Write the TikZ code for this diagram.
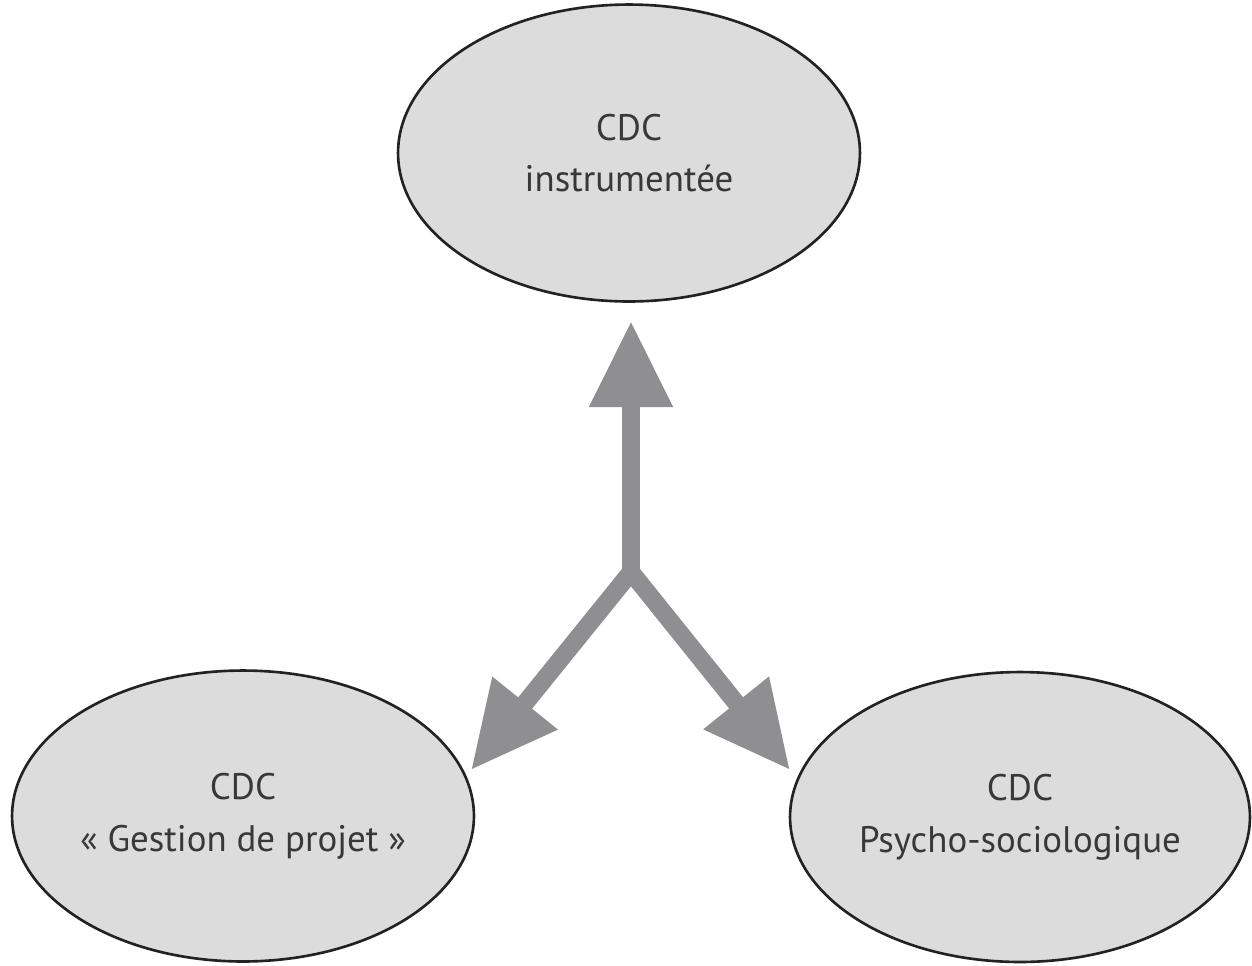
\documentclass[tikz,border=0pt]{standalone}
\usepackage{fontspec}
\setmainfont{PT Sans}
\usetikzlibrary{arrows.meta,shapes.geometric}
\definecolor{grisbulle}{HTML}{DCDCDC}
\definecolor{grisfleche}{HTML}{8F8F91}
\definecolor{bord}{HTML}{222222}

\begin{document}
\begin{tikzpicture}[x=0.02cm, y=-0.02cm,
    >={Triangle[width=45pt, length=49pt]},
    bulle/.style={ellipse, draw=bord, line width=1.5pt, fill=grisbulle, inner sep=0pt,
        align=center, text=bord!90, font=\fontsize{21}{29.5}\selectfont},
    fleche/.style={draw=grisfleche, line width=10.2pt, line join=miter}]
    \useasboundingbox (0,0) rectangle (1252,965);

    % les trois bulles
    \node[bulle, minimum width=9.24cm, minimum height=5.94cm] (instru) at (629,153) {CDC\\instrumentée};
    \node[bulle, minimum width=9.24cm, minimum height=5.82cm] (gestion) at (243,816) {CDC\\« Gestion de projet »};
    \node[bulle, minimum width=9.2cm, minimum height=5.8cm] (psycho) at (1020,817) {CDC\\Psycho-sociologique};

    % point de départ et pointes
    \coordinate (hub) at (631,572);
    \coordinate (pointeH) at (631,321);
    \coordinate (pointeG) at (471,770);
    \coordinate (pointeD) at (790,770);

    % flèches
    \draw[fleche, ->] (hub) -- (pointeH);
    \draw[fleche, <->] (pointeG) -- (hub) -- (pointeD);
\end{tikzpicture}
\end{document}
